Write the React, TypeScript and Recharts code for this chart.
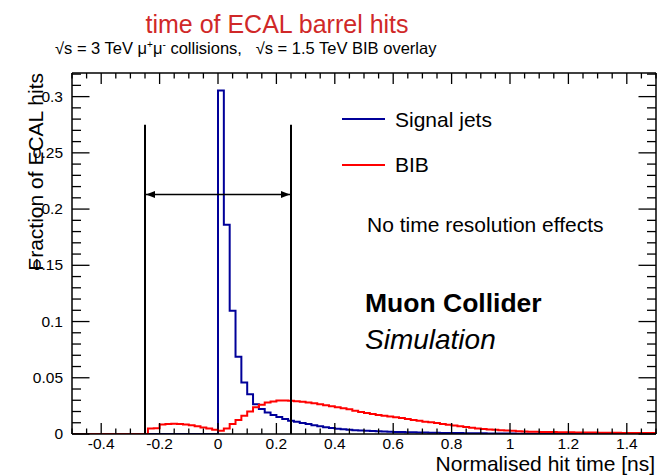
import React from 'react';
import { ComposedChart, Line, XAxis, YAxis, ReferenceLine, Legend } from 'recharts';

const FONT = '"Liberation Sans", Arial, Helvetica, sans-serif';

// histogram binning
const BIN_START = -0.5;
const BIN_WIDTH = 0.02;
const X_END = 1.5;
const Y_MAX = 0.321;

// Signal jets: fraction per 0.02 ns bin, starting at -0.5
const signalJets = [
  0, 0, 0, 0, 0, 0, 0, 0, 0, 0,
  0, 0, 0, 0, 0, 0, 0, 0, 0, 0,
  0, 0, 0, 0, 0, 0.3055, 0.186, 0.1095, 0.0688, 0.0457,
  0.0353, 0.0265, 0.0222, 0.0192, 0.017, 0.0152, 0.0133, 0.0118, 0.0108, 0.0097,
  0.0088, 0.0078, 0.0068, 0.006, 0.0053, 0.0047, 0.0042, 0.0038, 0.0034, 0.0031,
  0.0028, 0.0026, 0.0024, 0.0022, 0.002, 0.0018, 0.0017, 0.0016, 0.0015, 0.0014,
  0.0013, 0.0012, 0.0011, 0.001, 0.0009, 0.0008, 0.0008, 0.0007, 0.0007, 0.0006,
  0.0006, 0.0005, 0.0005, 0.0004, 0.0004, 0.0004, 0.0003, 0.0003, 0.0003, 0.0003,
  0.0002, 0.0002, 0.0002, 0.0002, 0.0002, 0.0002, 0.0002, 0.0001, 0.0001, 0.0001,
  0.0001, 0.0001, 0.0001, 0.0001, 0.0001, 0.0001, 0.0001, 0.0001, 0.0001, 0.0001,
];

// BIB: fraction per 0.02 ns bin, starting at -0.5
const bibHits = [
  0, 0, 0, 0, 0, 0, 0, 0, 0, 0,
  0, 0, 0, 0.0048, 0.0052, 0.0085, 0.009, 0.0091, 0.0089, 0.0084,
  0.0077, 0.0068, 0.0058, 0.0048, 0.0038, 0.003, 0.005, 0.0089, 0.0125, 0.0163,
  0.02, 0.0237, 0.026, 0.028, 0.029, 0.0297, 0.0298, 0.0296, 0.0292, 0.0287,
  0.028, 0.0273, 0.0265, 0.0256, 0.0247, 0.0237, 0.0228, 0.022, 0.0207, 0.0196,
  0.0186, 0.0178, 0.017, 0.0162, 0.0155, 0.0148, 0.0142, 0.0133, 0.0125, 0.0118,
  0.011, 0.0104, 0.0097, 0.009, 0.0082, 0.0075, 0.0068, 0.0062, 0.0056, 0.005,
  0.0045, 0.0041, 0.0037, 0.0034, 0.0031, 0.0028, 0.0025, 0.0022, 0.002, 0.0019,
  0.0018, 0.0017, 0.0017, 0.0016, 0.0015, 0.0015, 0.0014, 0.0014, 0.0013, 0.0013,
  0.0012, 0.0012, 0.0011, 0.0011, 0.001, 0.001, 0.001, 0.0009, 0.0009, 0.0008,
];

const seriesNames = ['Signal jets', 'BIB'];

const xMajorTicks = [-0.4, -0.2, 0, 0.2, 0.4, 0.6, 0.8, 1, 1.2, 1.4];
const xMajorLabels = ['-0.4', '-0.2', '0', '0.2', '0.4', '0.6', '0.8', '1', '1.2', '1.4'];
const yMajorTicks = [0, 0.05, 0.1, 0.15, 0.2, 0.25, 0.3];
const yMajorLabels = ['0', '0.05', '0.1', '0.15', '0.2', '0.25', '0.3'];

// time window markers
const cutLow = -0.25;
const cutHigh = 0.25;
const cutTop = 0.275;
const arrowLevel = 0.213;

const data = signalJets.map((s, i) => ({
  x: +(BIN_START + i * BIN_WIDTH).toFixed(2),
  sig: s,
  bib: bibHits[i],
}));
data.push({ x: X_END, sig: signalJets[signalJets.length - 1], bib: bibHits[bibHits.length - 1] });

const xTicks = Array.from({ length: 41 }, (_, i) => +(BIN_START + i * 0.05).toFixed(2));
const yTicks = Array.from({ length: 33 }, (_, i) => +(i * 0.01).toFixed(2));

const xIdx = (v: number) => xMajorTicks.findIndex((t) => Math.abs(t - v) < 1e-6);
const yIdx = (v: number) => yMajorTicks.findIndex((t) => Math.abs(t - v) < 1e-6);

const TICK_FS = 15.5;
const AX_STROKE = 1.3;

const XBottomTick = (p: any) => {
  const { x, y, payload } = p;
  const i = xIdx(payload.value);
  const major = i >= 0;
  return (
    <g>
      <line x1={x} x2={x} y1={y} y2={y - (major ? 11 : 5.5)} stroke="#000" strokeWidth={AX_STROKE} />
      {major && (
        <text x={x} y={y + 15} textAnchor="middle" fontSize={TICK_FS} fontFamily={FONT} fill="#000">
          {xMajorLabels[i]}
        </text>
      )}
    </g>
  );
};

const XTopTick = (p: any) => {
  const { x, y, payload } = p;
  const major = xIdx(payload.value) >= 0;
  return <line x1={x} x2={x} y1={y} y2={y + (major ? 11 : 5.5)} stroke="#000" strokeWidth={AX_STROKE} />;
};

const YLeftTick = (p: any) => {
  const { x, y, payload } = p;
  const i = yIdx(payload.value);
  const major = i >= 0;
  return (
    <g>
      <line x1={x} x2={x + (major ? 17.5 : 9)} y1={y} y2={y} stroke="#000" strokeWidth={AX_STROKE} />
      {major && (
        <text x={x - 9} y={y} dy={5} textAnchor="end" fontSize={TICK_FS} fontFamily={FONT} fill="#000">
          {yMajorLabels[i]}
        </text>
      )}
    </g>
  );
};

const YRightTick = (p: any) => {
  const { x, y, payload } = p;
  const major = yIdx(payload.value) >= 0;
  return <line x1={x} x2={x - (major ? 17.5 : 9)} y1={y} y2={y} stroke="#000" strokeWidth={AX_STROKE} />;
};

const ArrowShape = (p: any) => {
  const { x1, y1, x2, y2 } = p;
  const h = 9;
  const w = 3.5;
  return (
    <g>
      <line x1={x1} y1={y1} x2={x2} y2={y2} stroke="#000" strokeWidth={1.5} />
      <path d={`M${x1 + 1},${y1} L${x1 + 1 + h},${y1 - w} L${x1 + 1 + h},${y1 + w} Z`} fill="#000" />
      <path d={`M${x2 - 1},${y2} L${x2 - 1 - h},${y2 - w} L${x2 - 1 - h},${y2 + w} Z`} fill="#000" />
    </g>
  );
};

const LegendContent = (p: any) => {
  const items = [...(p.payload || [])].sort(
    (a: any, b: any) => seriesNames.indexOf(a.value) - seriesNames.indexOf(b.value)
  );
  return (
    <svg width={220} height={90} style={{ display: 'block', overflow: 'visible' }}>
      {items.map((it: any, i: number) => (
        <g key={i}>
          <line x1={12} x2={55} y1={19 + 46 * i} y2={19 + 46 * i} stroke={it.color} strokeWidth={2} />
          <text x={65} y={26.5 + 45 * i} fontSize={21} fontFamily={FONT} fill="#000">
            {it.value}
          </text>
        </g>
      ))}
    </svg>
  );
};

export default function App() {
  return (
    <div style={{ position: 'absolute', left: 0, top: 0, width: 660, height: 475, background: '#fff' }}>
      <ComposedChart width={660} height={475} data={data} margin={{ top: 0, right: 0, bottom: 0, left: 0 }}>
        <XAxis
          xAxisId="b"
          dataKey="x"
          type="number"
          domain={[BIN_START, X_END]}
          allowDataOverflow
          ticks={xTicks}
          interval={0}
          height={41}
          tickSize={0}
          tickMargin={0}
          tickLine={false}
          tick={XBottomTick}
          axisLine={{ stroke: '#000', strokeWidth: 1.5 }}
        />
        <XAxis
          xAxisId="t"
          dataKey="x"
          orientation="top"
          type="number"
          domain={[BIN_START, X_END]}
          allowDataOverflow
          ticks={xTicks}
          interval={0}
          height={73}
          tickSize={0}
          tickMargin={0}
          tickLine={false}
          tick={XTopTick}
          axisLine={{ stroke: '#000', strokeWidth: 1.5 }}
        />
        <YAxis
          yAxisId="l"
          type="number"
          domain={[0, Y_MAX]}
          allowDataOverflow
          ticks={yTicks}
          interval={0}
          width={72}
          tickSize={0}
          tickMargin={0}
          tickLine={false}
          tick={YLeftTick}
          axisLine={{ stroke: '#000', strokeWidth: 1.5 }}
        />
        <YAxis
          yAxisId="r"
          orientation="right"
          type="number"
          domain={[0, Y_MAX]}
          allowDataOverflow
          ticks={yTicks}
          interval={0}
          width={4}
          tickSize={0}
          tickMargin={0}
          tickLine={false}
          tick={YRightTick}
          axisLine={{ stroke: '#000', strokeWidth: 1.5 }}
        />
        <Line
          xAxisId="b"
          yAxisId="l"
          type="stepAfter"
          dataKey="sig"
          name={seriesNames[0]}
          stroke="#000099"
          strokeWidth={2}
          dot={false}
          activeDot={false}
          isAnimationActive={false}
        />
        <Line
          xAxisId="b"
          yAxisId="l"
          type="stepAfter"
          dataKey="bib"
          name={seriesNames[1]}
          stroke="#ff0000"
          strokeWidth={2}
          dot={false}
          activeDot={false}
          isAnimationActive={false}
        />
        <ReferenceLine
          xAxisId="b"
          yAxisId="l"
          segment={[{ x: cutLow, y: 0 }, { x: cutLow, y: cutTop }]}
          stroke="#000"
          strokeWidth={2}
        />
        <ReferenceLine
          xAxisId="b"
          yAxisId="l"
          segment={[{ x: cutHigh, y: 0 }, { x: cutHigh, y: cutTop }]}
          stroke="#000"
          strokeWidth={2}
        />
        <ReferenceLine
          xAxisId="b"
          yAxisId="l"
          segment={[{ x: cutLow, y: arrowLevel }, { x: cutHigh, y: arrowLevel }]}
          stroke="#000"
          shape={ArrowShape}
        />
        <Legend
          layout="vertical"
          align="center"
          verticalAlign="middle"
          content={LegendContent}
          wrapperStyle={{ left: 330, top: 100, width: 220, height: 90 }}
        />
      </ComposedChart>
      <svg
        width={660}
        height={475}
        style={{ position: 'absolute', left: 0, top: 0, pointerEvents: 'none' }}
      >
        <text x={277} y={33} textAnchor="middle" fontSize={25} fontFamily={FONT} fill="#d02828">
          time of ECAL barrel hits
        </text>
        <text x={55} y={54} fontSize={16.5} fontFamily={FONT} fill="#000" style={{ whiteSpace: 'pre' }}>
          √s = 3 TeV μ<tspan fontSize={10} dy={-6}>+</tspan>
          <tspan dy={6}>μ</tspan>
          <tspan fontSize={10} dy={-6}>-</tspan>
          <tspan dy={6}>{' collisions,   √s = 1.5 TeV BIB overlay'}</tspan>
        </text>
        <text transform="translate(43,73) rotate(-90)" x={0} y={0} textAnchor="end" fontSize={21} fontFamily={FONT} fill="#000">
          Fraction of ECAL hits
        </text>
        <text x={655} y={471} textAnchor="end" fontSize={21} fontFamily={FONT} fill="#000">
          Normalised hit time [ns]
        </text>
        <text x={367} y={231.5} fontSize={21} fontFamily={FONT} fill="#000">
          No time resolution effects
        </text>
        <text x={365} y={312} fontSize={26.5} fontWeight="bold" fontFamily={FONT} fill="#000">
          Muon Collider
        </text>
        <text x={365} y={349} fontSize={28} fontStyle="italic" fontFamily={FONT} fill="#000">
          Simulation
        </text>
      </svg>
    </div>
  );
}
